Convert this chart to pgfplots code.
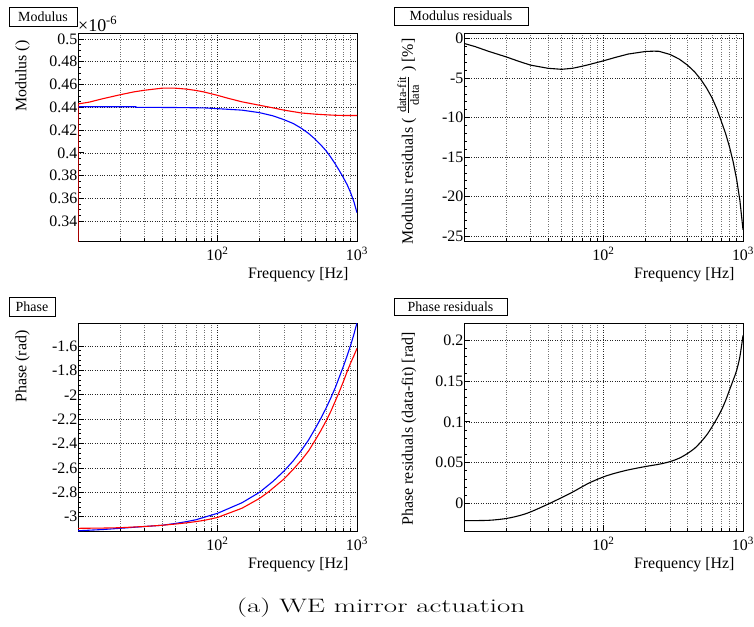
\documentclass[border=0pt]{standalone}
\usepackage{amsmath}
\usepackage{fontspec}
\usepackage{graphicx}
\usepackage{pgfplots}
\pgfplotsset{compat=1.18}
\newfontfamily\rootfont{Liberation Serif}
\pgfplotsset{
  every axis/.append style={
    scale only axis, width=279bp, height=208bp,
    xmin=10, xmax=1000,
    tick pos=left, tick align=inside,
    major tick length=6bp, minor tick length=3.5bp,
    xmajorgrids, xminorgrids, ymajorgrids,
    major grid style={dotted, black!85, line width=0.6bp},
    minor grid style={dotted, black!55, line width=0.6bp},
    axis line style={black, line width=0.8bp},
    tick style={black, line width=0.7bp},
    tick label style={font=\rootfont\fontsize{16}{16}\selectfont},
    label style={font=\rootfont\fontsize{16}{16}\selectfont},
    xlabel={Frequency [Hz]},
    xlabel style={at={(rel axis cs:1,0)}, anchor=base east, yshift=-37bp, xshift=-5bp},
    xticklabel style={anchor=north, inner sep=0pt, yshift=-6bp},
    yticklabel style={inner sep=3bp, xshift=2.5bp, /pgf/number format/assume math mode=true,
      /pgf/number format/fixed, /pgf/number format/precision=2},
    clip mode=individual,
  }
}
\begin{document}
\begin{tikzpicture}
\useasboundingbox (0,0) rectangle (754bp,-627bp);
% ---------- Modulus ----------
\begin{semilogxaxis}[at={(78bp,-241bp)}, anchor=south west,
  xtick={100,1000}, xticklabels={10\textsuperscript{2},10\textsuperscript{3}},
  minor xtick={20,30,40,50,60,70,80,90,200,300,400,500,600,700,800,900},
  ymin=0.3225, ymax=0.5053,
  ytick={0.34,0.36,0.38,0.4,0.42,0.44,0.46,0.48,0.5}, minor y tick num=3,
  ylabel={Modulus ()},
  ylabel style={at={(rel axis cs:-0.1846,0.981)}, anchor=base east}]
\addplot[blue, line width=1.1bp] coordinates {
(10,0.4405) (20,0.4405) (26,0.4405) (26,0.440) (50,0.4398) (80,0.4395) (100,0.4388)
(150,0.4375) (200,0.4353) (250,0.4325) (300,0.4291) (350,0.4257) (400,0.4215)
(450,0.417) (500,0.4121) (550,0.407) (600,0.4018) (650,0.396) (700,0.390)
(750,0.384) (800,0.378) (850,0.372) (900,0.365) (950,0.357) (1000,0.3474)};
\addplot[red, line width=1.1bp] coordinates {
(10,0.30) (10,0.443) (12,0.4445) (15,0.4475) (20,0.451) (25,0.4535) (30,0.455)
(40,0.4568) (50,0.4568) (60,0.456) (70,0.4548) (80,0.4535) (100,0.4505)
(120,0.4478) (150,0.4448) (200,0.4418) (250,0.4395) (300,0.4375) (400,0.435)
(500,0.434) (600,0.4334) (700,0.433) (800,0.4328) (1000,0.4328)};
\end{semilogxaxis}
% ---------- Modulus residuals ----------
\begin{semilogxaxis}[at={(464bp,-241bp)}, anchor=south west,
  xtick={100,1000}, xticklabels={10\textsuperscript{2},10\textsuperscript{3}},
  minor xtick={20,30,40,50,60,70,80,90,200,300,400,500,600,700,800,900},
  ymin=-25.63, ymax=0.72,
  ytick={-25,-20,-15,-10,-5,0}, minor y tick num=4,
  ylabel={Modulus residuals ( $\frac{\mbox{\fontsize{12.5}{13}\selectfont data-fit}}{\mbox{\fontsize{12.5}{13}\selectfont data}}$ ) [\%]},
  ylabel style={at={(rel axis cs:-0.183,0.99)}, anchor=base east}]
\addplot[black, line width=1.1bp] coordinates {
(10,-0.6) (12,-1.0) (15,-1.6) (20,-2.3) (25,-2.9) (30,-3.35) (40,-3.75) (50,-3.88)
(60,-3.75) (70,-3.5) (80,-3.25) (100,-2.8) (120,-2.4) (150,-1.95) (200,-1.62)
(230,-1.58) (250,-1.6) (300,-2.0) (350,-2.6) (400,-3.35) (450,-4.2) (500,-5.2)
(550,-6.3) (600,-7.5) (650,-8.9) (700,-10.5) (750,-12.0) (800,-13.7) (850,-15.6)
(900,-17.8) (950,-20.5) (1000,-24.2)};
\end{semilogxaxis}
% ---------- Phase ----------
\begin{semilogxaxis}[at={(78bp,-531bp)}, anchor=south west,
  xtick={100,1000}, xticklabels={10\textsuperscript{2},10\textsuperscript{3}},
  minor xtick={20,30,40,50,60,70,80,90,200,300,400,500,600,700,800,900},
  ymin=-3.117, ymax=-1.412,
  ytick={-3,-2.8,-2.6,-2.4,-2.2,-2,-1.8,-1.6}, minor y tick num=4,
  ylabel={Phase (rad)},
  ylabel style={at={(rel axis cs:-0.1846,0.981)}, anchor=base east}]
\addplot[blue, line width=1.1bp] coordinates {
(10,-3.115) (15,-3.105) (20,-3.095) (30,-3.08) (40,-3.07) (50,-3.055) (60,-3.04)
(70,-3.025) (80,-3.005) (100,-2.972) (150,-2.885) (200,-2.80) (250,-2.71)
(300,-2.625) (350,-2.54) (400,-2.455) (450,-2.37) (500,-2.28) (550,-2.195)
(600,-2.11) (650,-2.025) (700,-1.94) (750,-1.85) (800,-1.765) (850,-1.68)
(900,-1.595) (950,-1.505) (1000,-1.41)};
\addplot[red, line width=1.1bp] coordinates {
(10,-3.095) (15,-3.093) (20,-3.09) (30,-3.08) (40,-3.07) (50,-3.06) (60,-3.05)
(70,-3.04) (80,-3.03) (100,-3.006) (150,-2.93) (200,-2.85) (230,-2.80) (300,-2.69)
(350,-2.61) (400,-2.535) (450,-2.46) (500,-2.375) (550,-2.295) (600,-2.215)
(650,-2.135) (700,-2.05) (750,-1.97) (800,-1.89) (850,-1.81) (900,-1.74)
(950,-1.68) (1000,-1.62)};
\end{semilogxaxis}
% ---------- Phase residuals ----------
\begin{semilogxaxis}[at={(464bp,-531bp)}, anchor=south west,
  xtick={100,1000}, xticklabels={10\textsuperscript{2},10\textsuperscript{3}},
  minor xtick={20,30,40,50,60,70,80,90,200,300,400,500,600,700,800,900},
  ymin=-0.0339, ymax=0.2212,
  ytick={0,0.05,0.1,0.15,0.2}, minor y tick num=4,
  ylabel={Phase residuals (data-fit) [rad]},
  ylabel style={at={(rel axis cs:-0.183,0.973)}, anchor=base east}]
\addplot[black, line width=1.1bp, smooth] coordinates {
(10,-0.0212) (15,-0.0208) (20,-0.0186) (25,-0.015) (30,-0.0105) (40,-0.001)
(50,0.007) (60,0.0138) (70,0.0202) (80,0.0255) (100,0.0325) (120,0.0368)
(150,0.041) (200,0.0452) (250,0.048) (300,0.0512) (350,0.0555) (400,0.0612)
(450,0.0675) (500,0.0755) (550,0.084) (600,0.0939) (650,0.104) (700,0.1143)
(750,0.126) (800,0.139) (850,0.151) (900,0.163) (950,0.180) (1000,0.206)};
\end{semilogxaxis}
% ---------- titles and caption ----------
\begin{scope}[every node/.style={draw, line width=0.8bp, inner sep=0pt,
   font=\rootfont\fontsize{14}{14}\selectfont}]
\node[minimum width=68bp, minimum height=19bp] at (43bp,-16.5bp) {Modulus};
\node[minimum width=134bp, minimum height=18bp] at (461bp,-16bp) {Modulus residuals};
\node[minimum width=46bp, minimum height=19bp] at (32bp,-306.5bp) {Phase};
\node[minimum width=113bp, minimum height=17bp] at (450.5bp,-306.5bp) {Phase residuals};
\end{scope}
\node[anchor=base west, inner sep=0pt, font=\rootfont\fontsize{18}{18}\selectfont]
  at (78bp,-31bp) {\texttimes 10\textsuperscript{-6}};
\node[anchor=base, inner sep=0pt] at (381bp,-612bp)
  {\scalebox{1.49}[1]{\fontsize{19.5}{20}\selectfont (a) WE mirror actuation}};
\end{tikzpicture}
\end{document}
